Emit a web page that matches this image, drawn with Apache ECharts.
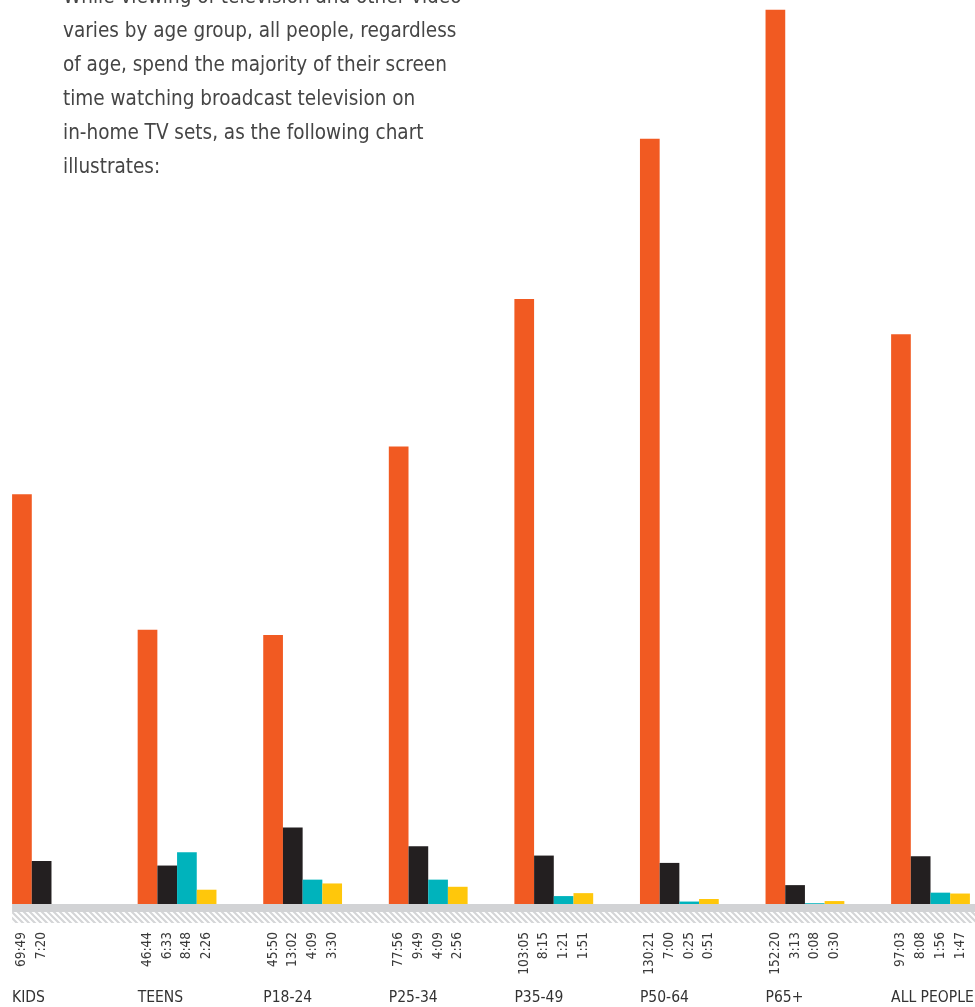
<!DOCTYPE html>
<html>
<head>
<meta charset="utf-8">
<script src="https://cdn.jsdelivr.net/npm/echarts@6/dist/echarts.min.js"></script>
<style>
html,body{margin:0;padding:0;background:#fff;}
#c{width:975px;height:1007px;}
</style>
</head>
<body>
<div id="c"></div>
<script>
const categories = ['KIDS', 'TEENS', 'P18-24', 'P25-34', 'P35-49', 'P50-64', 'P65+', 'ALL PEOPLE'];
const seriesNames = ['Traditional TV', 'Internet on a computer', 'Video on the internet', 'Video on a smartphone'];
const traditionalTV = ['69:49', '46:44', '45:50', '77:56', '103:05', '130:21', '152:20', '97:03'];
const internetPC = ['7:20', '6:33', '13:02', '9:49', '8:15', '7:00', '3:13', '8:08'];
const videoInternet = [null, '8:48', '4:09', '4:09', '1:21', '0:25', '0:08', '1:56'];
const videoPhone = [null, '2:26', '3:30', '2:56', '1:51', '0:51', '0:30', '1:47'];
const colors = ['#F15A22', '#231F20', '#00B3BC', '#FFC70B'];
const introText = [
  'While viewing of television and other video',
  'varies by age group, all people, regardless',
  'of age, spend the majority of their screen',
  'time watching broadcast television on',
  'in-home TV sets, as the following chart',
  'illustrates:'
];

function toHours(s) {
  if (s === null) return null;
  const p = s.split(':');
  return parseInt(p[0], 10) + parseInt(p[1], 10) / 60;
}

const FONT = '"Liberation Sans Narrow", "DejaVu Sans Condensed", sans-serif';
const raw = [traditionalTV, internetPC, videoInternet, videoPhone];

const chart = echarts.init(document.getElementById('c'));

const series = raw.map((arr, i) => ({
  name: seriesNames[i],
  type: 'bar',
  barWidth: 19.7,
  barGap: '0%',
  itemStyle: { color: colors[i] },
  data: arr.map(toHours),
  label: {
    show: true,
    position: 'bottom',
    distance: 28,
    rotate: 90,
    align: 'right',
    verticalAlign: 'middle',
    fontFamily: FONT,
    fontSize: 13.5,
    color: '#3a3a3a',
    formatter: p => arr[p.dataIndex] || ''
  }
}));

chart.setOption({
  animation: false,
  backgroundColor: '#ffffff',
  title: {
    text: introText.join('\n'),
    left: 63,
    top: -19,
    padding: 0,
    textStyle: {
      fontFamily: FONT,
      fontSize: 20.5,
      lineHeight: 34,
      fontWeight: 'normal',
      color: '#454545'
    }
  },
  grid: { left: -11.3, right: -18.3, top: 0, bottom: 103, outerBoundsMode: 'none', containLabel: false },
  xAxis: {
    type: 'category',
    data: categories,
    axisLine: { show: false },
    axisTick: { show: false },
    axisLabel: {
      interval: 0,
      margin: 86,
      align: 'left',
      padding: [0, 0, 0, -39.4],
      fontFamily: FONT,
      fontSize: 15.5,
      color: '#333333'
    }
  },
  yAxis: {
    type: 'value',
    min: 0,
    max: 154,
    show: false,
    splitLine: { show: false }
  },
  series: series
});

// axis band with hatching, positioned from the library's scales
const base = chart.convertToPixel({ yAxisIndex: 0 }, 0);
const firstCenter = chart.convertToPixel({ xAxisIndex: 0 }, categories[0]);
const bandLeft = firstCenter - 2 * 19.7;

const pc = document.createElement('canvas');
pc.width = 6; pc.height = 6;
const ctx = pc.getContext('2d');
ctx.fillStyle = '#ffffff';
ctx.fillRect(0, 0, 6, 6);
ctx.strokeStyle = '#d4d5d7';
ctx.lineWidth = 2.2;
ctx.beginPath();
ctx.moveTo(-1, -1); ctx.lineTo(7, 7);
ctx.moveTo(-4, 2); ctx.lineTo(4, 10);
ctx.moveTo(2, -4); ctx.lineTo(10, 4);
ctx.stroke();

chart.setOption({
  graphic: [
    {
      type: 'rect',
      shape: { x: bandLeft, y: base, width: 975 - bandLeft, height: 8 },
      style: { fill: '#d2d3d5' },
      silent: true
    },
    {
      type: 'rect',
      shape: { x: bandLeft, y: base + 8, width: 975 - bandLeft, height: 11 },
      style: { fill: { image: pc, repeat: 'repeat' } },
      silent: true
    }
  ]
});
</script>
</body>
</html>
